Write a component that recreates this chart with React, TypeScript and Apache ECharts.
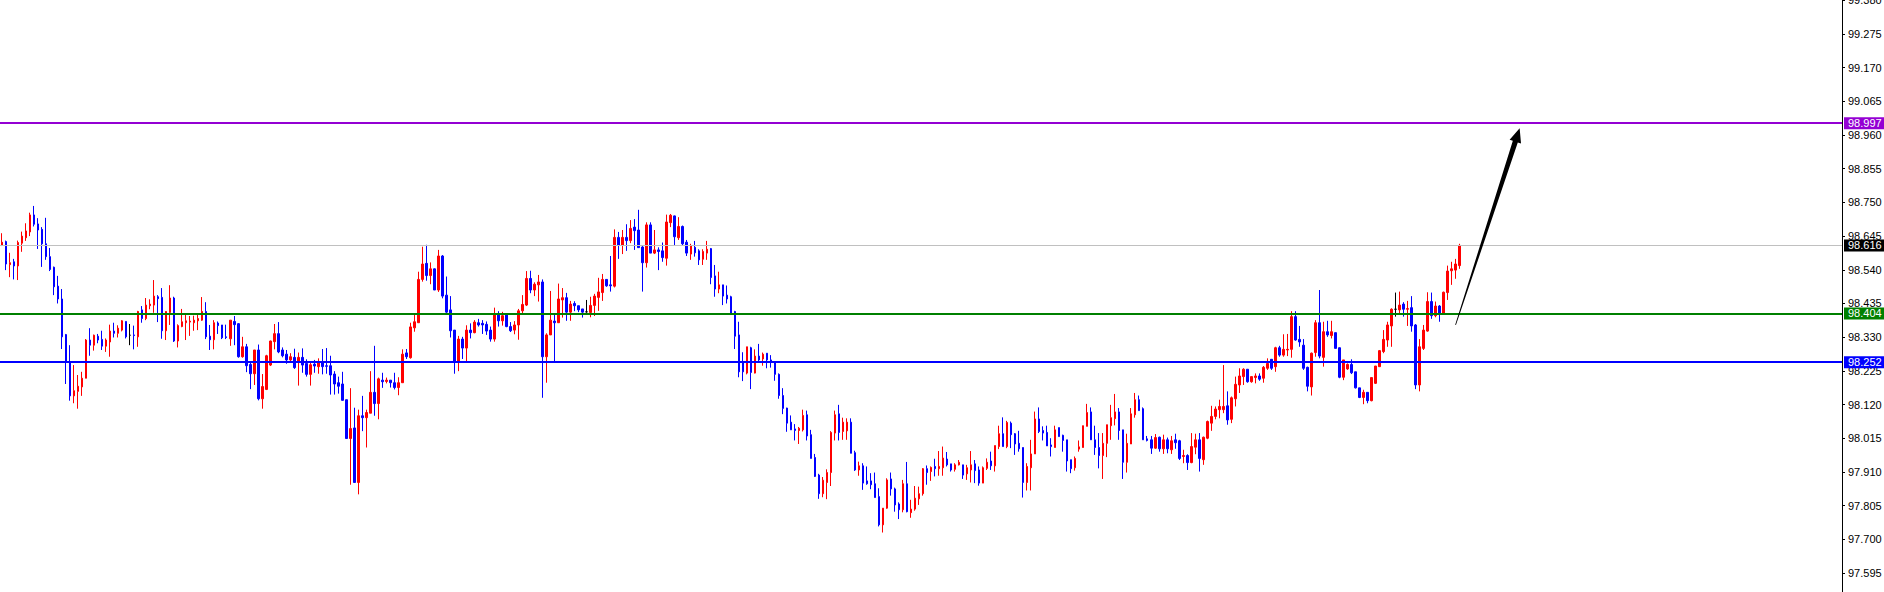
import React, { useEffect, useRef } from 'react';
import * as echarts from 'echarts';

const opens = [
  98.617, 98.628, 98.556, 98.565, 98.552, 98.623, 98.640, 98.658, 98.711, 98.683,
  98.666, 98.621, 98.581, 98.548, 98.489, 98.449, 98.338, 98.251, 98.147, 98.161,
  98.175, 98.202, 98.321, 98.305, 98.333, 98.323, 98.302, 98.315, 98.349, 98.342,
  98.352, 98.379, 98.336, 98.337, 98.331, 98.415, 98.388, 98.428, 98.430, 98.456,
  98.454, 98.350, 98.407, 98.452, 98.318, 98.363, 98.375, 98.377, 98.375, 98.381,
  98.383, 98.410, 98.333, 98.322, 98.374, 98.368, 98.331, 98.325, 98.379, 98.372,
  98.269, 98.300, 98.245, 98.216, 98.290, 98.138, 98.167, 98.243, 98.316, 98.341,
  98.290, 98.277, 98.259, 98.267, 98.252, 98.267, 98.248, 98.214, 98.246, 98.238,
  98.251, 98.241, 98.241, 98.215, 98.188, 98.184, 98.135, 98.014, 98.047, 97.877,
  98.085, 98.079, 98.093, 98.158, 98.123, 98.196, 98.192, 98.196, 98.188, 98.173,
  98.188, 98.281, 98.266, 98.359, 98.375, 98.510, 98.560, 98.522, 98.543, 98.477,
  98.583, 98.461, 98.415, 98.352, 98.253, 98.324, 98.296, 98.352, 98.344, 98.375,
  98.373, 98.370, 98.352, 98.324, 98.401, 98.381, 98.399, 98.363, 98.352, 98.368,
  98.412, 98.430, 98.513, 98.477, 98.493, 98.502, 98.269, 98.337, 98.380, 98.375,
  98.446, 98.453, 98.408, 98.435, 98.428, 98.418, 98.409, 98.407, 98.429, 98.454,
  98.469, 98.510, 98.493, 98.489, 98.641, 98.617, 98.641, 98.631, 98.673, 98.664,
  98.611, 98.562, 98.680, 98.592, 98.602, 98.599, 98.576, 98.687, 98.708, 98.640,
  98.675, 98.626, 98.589, 98.610, 98.599, 98.573, 98.592, 98.606, 98.521, 98.480,
  98.493, 98.461, 98.456, 98.410, 98.337, 98.253, 98.218, 98.297, 98.218, 98.271,
  98.262, 98.280, 98.259, 98.253, 98.214, 98.148, 98.109, 98.065, 98.044, 98.039,
  98.041, 98.088, 98.026, 97.955, 97.900, 97.842, 97.877, 97.908, 98.031, 98.091,
  98.036, 98.038, 98.065, 97.970, 97.916, 97.929, 97.882, 97.882, 97.873, 97.833,
  97.745, 97.797, 97.888, 97.857, 97.810, 97.792, 97.873, 97.783, 97.794, 97.826,
  97.842, 97.920, 97.911, 97.927, 97.920, 97.923, 97.950, 97.935, 97.918, 97.932,
  97.932, 97.904, 97.916, 97.935, 97.916, 97.875, 97.921, 97.944, 97.929, 97.989,
  98.029, 97.989, 98.062, 98.029, 97.999, 97.986, 97.877, 97.923, 97.966, 98.075,
  98.039, 98.033, 97.994, 97.986, 98.048, 98.024, 98.010, 97.948, 97.923, 97.981,
  97.986, 98.052, 98.097, 98.010, 97.986, 97.961, 97.999, 98.054, 98.076, 98.097,
  98.041, 97.940, 97.997, 98.088, 98.135, 98.107, 98.013, 98.010, 97.984, 98.018,
  97.982, 98.010, 97.979, 98.010, 98.007, 97.958, 97.961, 97.939, 97.987, 98.010,
  97.948, 98.015, 98.062, 98.083, 98.104, 98.104, 98.116, 98.074, 98.138, 98.181,
  98.207, 98.230, 98.191, 98.204, 98.209, 98.202, 98.233, 98.261, 98.238, 98.297,
  98.274, 98.290, 98.292, 98.394, 98.323, 98.305, 98.236, 98.175, 98.282, 98.375,
  98.267, 98.347, 98.335, 98.344, 98.297, 98.205, 98.231, 98.245, 98.222, 98.172,
  98.142, 98.158, 98.132, 98.186, 98.238, 98.285, 98.321, 98.365, 98.417, 98.415,
  98.433, 98.417, 98.422, 98.368, 98.181, 98.295, 98.349, 98.441, 98.397, 98.427,
  98.404, 98.469, 98.537, 98.539, 98.553,
];

const closes = [
  98.626, 98.558, 98.562, 98.552, 98.625, 98.645, 98.661, 98.711, 98.682, 98.664,
  98.621, 98.581, 98.541, 98.487, 98.449, 98.331, 98.251, 98.147, 98.163, 98.177,
  98.202, 98.321, 98.305, 98.336, 98.321, 98.302, 98.321, 98.349, 98.342, 98.358,
  98.381, 98.331, 98.336, 98.335, 98.410, 98.388, 98.430, 98.433, 98.458, 98.450,
  98.350, 98.410, 98.452, 98.318, 98.366, 98.378, 98.381, 98.380, 98.383, 98.388,
  98.410, 98.331, 98.322, 98.375, 98.366, 98.328, 98.329, 98.383, 98.369, 98.269,
  98.300, 98.241, 98.216, 98.290, 98.138, 98.176, 98.272, 98.318, 98.341, 98.284,
  98.272, 98.259, 98.269, 98.235, 98.267, 98.243, 98.214, 98.244, 98.240, 98.253,
  98.238, 98.239, 98.212, 98.184, 98.177, 98.133, 98.014, 98.045, 97.877, 98.085,
  98.079, 98.095, 98.158, 98.123, 98.200, 98.191, 98.196, 98.188, 98.173, 98.188,
  98.277, 98.269, 98.362, 98.378, 98.510, 98.558, 98.522, 98.543, 98.477, 98.583,
  98.458, 98.408, 98.350, 98.253, 98.324, 98.296, 98.352, 98.344, 98.377, 98.368,
  98.368, 98.349, 98.324, 98.399, 98.381, 98.397, 98.363, 98.350, 98.368, 98.412,
  98.432, 98.513, 98.477, 98.495, 98.502, 98.269, 98.337, 98.383, 98.375, 98.449,
  98.453, 98.408, 98.433, 98.428, 98.415, 98.408, 98.409, 98.429, 98.458, 98.471,
  98.510, 98.490, 98.490, 98.641, 98.617, 98.641, 98.631, 98.669, 98.662, 98.609,
  98.562, 98.680, 98.592, 98.602, 98.597, 98.578, 98.689, 98.710, 98.643, 98.675,
  98.621, 98.592, 98.614, 98.593, 98.571, 98.597, 98.604, 98.516, 98.480, 98.493,
  98.458, 98.449, 98.404, 98.333, 98.222, 98.222, 98.300, 98.220, 98.271, 98.259,
  98.277, 98.259, 98.253, 98.214, 98.148, 98.108, 98.062, 98.041, 98.039, 98.046,
  98.086, 98.022, 97.952, 97.896, 97.842, 97.884, 97.908, 98.033, 98.088, 98.033,
  98.065, 98.065, 97.968, 97.916, 97.929, 97.875, 97.873, 97.870, 97.830, 97.745,
  97.797, 97.885, 97.857, 97.807, 97.792, 97.873, 97.786, 97.794, 97.828, 97.842,
  97.920, 97.908, 97.924, 97.920, 97.927, 97.953, 97.932, 97.916, 97.932, 97.940,
  97.900, 97.923, 97.932, 97.914, 97.875, 97.923, 97.940, 97.929, 97.992, 98.029,
  97.989, 98.064, 98.026, 97.997, 97.982, 97.877, 97.927, 97.966, 98.075, 98.036,
  98.031, 97.991, 97.989, 98.041, 98.020, 98.008, 97.944, 97.920, 97.952, 97.988,
  98.054, 98.095, 98.010, 97.986, 97.961, 97.999, 98.057, 98.079, 98.097, 98.039,
  97.940, 97.999, 98.091, 98.135, 98.101, 98.010, 98.008, 97.984, 98.017, 97.982,
  98.010, 97.982, 98.007, 98.001, 97.952, 97.961, 97.939, 97.989, 98.010, 97.952,
  98.018, 98.067, 98.083, 98.106, 98.114, 98.114, 98.072, 98.141, 98.183, 98.209,
  98.230, 98.191, 98.207, 98.209, 98.199, 98.236, 98.248, 98.233, 98.297, 98.274,
  98.292, 98.292, 98.394, 98.321, 98.315, 98.233, 98.177, 98.280, 98.375, 98.271,
  98.347, 98.337, 98.347, 98.295, 98.205, 98.259, 98.245, 98.219, 98.172, 98.142,
  98.158, 98.132, 98.204, 98.240, 98.288, 98.323, 98.368, 98.417, 98.417, 98.430,
  98.417, 98.419, 98.365, 98.181, 98.300, 98.352, 98.441, 98.397, 98.427, 98.404,
  98.470, 98.536, 98.543, 98.558, 98.616,
];

const lows = [
  98.614, 98.539, 98.517, 98.510, 98.508, 98.596, 98.630, 98.645, 98.675, 98.605,
  98.549, 98.571, 98.536, 98.461, 98.435, 98.293, 98.184, 98.132, 98.124, 98.107,
  98.147, 98.202, 98.272, 98.288, 98.311, 98.290, 98.284, 98.269, 98.329, 98.329,
  98.348, 98.326, 98.305, 98.292, 98.300, 98.375, 98.383, 98.417, 98.406, 98.377,
  98.325, 98.321, 98.368, 98.315, 98.298, 98.361, 98.321, 98.334, 98.350, 98.352,
  98.381, 98.324, 98.290, 98.292, 98.340, 98.324, 98.324, 98.303, 98.305, 98.266,
  98.266, 98.221, 98.168, 98.181, 98.133, 98.107, 98.165, 98.240, 98.292, 98.280,
  98.267, 98.247, 98.251, 98.231, 98.179, 98.219, 98.207, 98.179, 98.219, 98.216,
  98.214, 98.216, 98.151, 98.151, 98.154, 98.132, 98.014, 97.870, 97.877, 97.840,
  98.037, 97.986, 98.093, 98.085, 98.074, 98.172, 98.186, 98.173, 98.167, 98.149,
  98.188, 98.262, 98.263, 98.347, 98.375, 98.503, 98.506, 98.495, 98.477, 98.471,
  98.451, 98.399, 98.329, 98.216, 98.224, 98.262, 98.253, 98.326, 98.342, 98.363,
  98.340, 98.337, 98.316, 98.316, 98.363, 98.366, 98.361, 98.346, 98.339, 98.322,
  98.404, 98.427, 98.467, 98.458, 98.441, 98.141, 98.188, 98.337, 98.252, 98.375,
  98.391, 98.381, 98.381, 98.411, 98.408, 98.391, 98.406, 98.392, 98.396, 98.412,
  98.443, 98.487, 98.472, 98.485, 98.574, 98.589, 98.599, 98.623, 98.602, 98.609,
  98.472, 98.547, 98.592, 98.589, 98.539, 98.565, 98.553, 98.673, 98.615, 98.633,
  98.617, 98.583, 98.571, 98.581, 98.555, 98.555, 98.571, 98.495, 98.456, 98.467,
  98.430, 98.435, 98.399, 98.293, 98.205, 98.193, 98.214, 98.168, 98.217, 98.252,
  98.241, 98.233, 98.235, 98.194, 98.138, 98.090, 98.035, 98.041, 98.008, 97.997,
  98.036, 98.008, 97.952, 97.894, 97.826, 97.831, 97.825, 97.866, 98.008, 98.008,
  98.010, 98.010, 97.968, 97.913, 97.898, 97.854, 97.870, 97.856, 97.830, 97.740,
  97.721, 97.795, 97.836, 97.786, 97.763, 97.784, 97.784, 97.767, 97.789, 97.807,
  97.836, 97.870, 97.882, 97.896, 97.898, 97.898, 97.927, 97.911, 97.911, 97.930,
  97.888, 97.885, 97.877, 97.875, 97.867, 97.875, 97.916, 97.916, 97.911, 97.981,
  97.989, 97.984, 97.984, 97.963, 97.973, 97.830, 97.852, 97.852, 97.966, 98.031,
  98.008, 97.991, 97.958, 97.986, 98.020, 97.973, 97.911, 97.906, 97.914, 97.973,
  97.986, 98.052, 98.010, 97.963, 97.921, 97.888, 97.956, 98.010, 98.055, 98.010,
  97.888, 97.908, 97.997, 98.079, 98.101, 98.010, 98.005, 97.966, 97.982, 97.973,
  97.966, 97.968, 97.966, 97.982, 97.947, 97.937, 97.916, 97.937, 97.965, 97.911,
  97.932, 98.012, 98.038, 98.074, 98.077, 98.093, 98.057, 98.062, 98.114, 98.156,
  98.181, 98.188, 98.188, 98.186, 98.194, 98.188, 98.228, 98.228, 98.222, 98.269,
  98.269, 98.271, 98.266, 98.319, 98.300, 98.228, 98.161, 98.148, 98.269, 98.264,
  98.238, 98.331, 98.326, 98.295, 98.202, 98.196, 98.228, 98.215, 98.170, 98.140,
  98.121, 98.124, 98.130, 98.184, 98.238, 98.280, 98.300, 98.300, 98.394, 98.399,
  98.394, 98.365, 98.347, 98.168, 98.161, 98.290, 98.347, 98.387, 98.392, 98.378,
  98.404, 98.446, 98.493, 98.512, 98.543,
];

const highs = [
  98.654, 98.631, 98.593, 98.574, 98.631, 98.659, 98.685, 98.718, 98.739, 98.701,
  98.673, 98.702, 98.608, 98.550, 98.521, 98.480, 98.340, 98.305, 98.243, 98.212,
  98.222, 98.324, 98.358, 98.338, 98.340, 98.350, 98.326, 98.369, 98.375, 98.367,
  98.383, 98.379, 98.371, 98.366, 98.412, 98.427, 98.452, 98.448, 98.508, 98.461,
  98.483, 98.411, 98.492, 98.456, 98.370, 98.418, 98.399, 98.396, 98.397, 98.404,
  98.455, 98.439, 98.368, 98.383, 98.379, 98.368, 98.369, 98.383, 98.396, 98.374,
  98.331, 98.309, 98.251, 98.290, 98.307, 98.215, 98.275, 98.319, 98.371, 98.377,
  98.298, 98.290, 98.280, 98.294, 98.282, 98.295, 98.261, 98.250, 98.259, 98.264,
  98.293, 98.296, 98.272, 98.224, 98.207, 98.222, 98.135, 98.171, 98.110, 98.104,
  98.147, 98.104, 98.224, 98.303, 98.204, 98.219, 98.204, 98.196, 98.219, 98.205,
  98.292, 98.293, 98.375, 98.399, 98.534, 98.612, 98.618, 98.563, 98.544, 98.602,
  98.586, 98.519, 98.458, 98.352, 98.334, 98.331, 98.367, 98.373, 98.383, 98.387,
  98.383, 98.379, 98.363, 98.422, 98.411, 98.409, 98.404, 98.377, 98.380, 98.418,
  98.461, 98.536, 98.537, 98.501, 98.524, 98.510, 98.342, 98.474, 98.404, 98.497,
  98.483, 98.468, 98.443, 98.442, 98.428, 98.418, 98.446, 98.456, 98.465, 98.515,
  98.527, 98.510, 98.583, 98.666, 98.658, 98.664, 98.682, 98.695, 98.698, 98.727,
  98.614, 98.688, 98.688, 98.664, 98.610, 98.625, 98.712, 98.714, 98.709, 98.704,
  98.678, 98.633, 98.621, 98.630, 98.604, 98.604, 98.630, 98.608, 98.555, 98.534,
  98.493, 98.491, 98.459, 98.412, 98.378, 98.283, 98.300, 98.300, 98.292, 98.309,
  98.282, 98.280, 98.274, 98.253, 98.217, 98.171, 98.110, 98.086, 98.059, 98.050,
  98.104, 98.101, 98.041, 97.966, 97.904, 97.894, 97.918, 98.037, 98.101, 98.119,
  98.079, 98.077, 98.077, 97.976, 97.942, 97.937, 97.927, 97.906, 97.908, 97.859,
  97.797, 97.890, 97.908, 97.861, 97.815, 97.885, 97.941, 97.823, 97.866, 97.864,
  97.922, 97.930, 97.927, 97.951, 97.975, 97.989, 97.972, 97.935, 97.937, 97.947,
  97.932, 97.932, 97.975, 97.947, 97.927, 97.927, 97.952, 97.973, 97.992, 98.054,
  98.080, 98.069, 98.067, 98.031, 98.038, 97.986, 97.937, 98.010, 98.098, 98.111,
  98.052, 98.054, 98.015, 98.054, 98.048, 98.026, 98.010, 97.948, 97.958, 98.008,
  98.054, 98.122, 98.111, 98.054, 98.031, 98.031, 98.057, 98.119, 98.153, 98.109,
  98.041, 98.029, 98.109, 98.156, 98.148, 98.111, 98.022, 98.022, 98.028, 98.020,
  98.026, 98.017, 98.022, 98.029, 98.010, 97.979, 97.965, 98.031, 98.029, 98.031,
  98.020, 98.070, 98.116, 98.114, 98.135, 98.243, 98.161, 98.145, 98.207, 98.233,
  98.233, 98.230, 98.207, 98.217, 98.217, 98.240, 98.264, 98.261, 98.300, 98.303,
  98.339, 98.340, 98.411, 98.411, 98.365, 98.324, 98.238, 98.282, 98.383, 98.477,
  98.378, 98.381, 98.381, 98.344, 98.298, 98.259, 98.248, 98.261, 98.222, 98.172,
  98.166, 98.158, 98.204, 98.240, 98.290, 98.352, 98.378, 98.420, 98.469, 98.472,
  98.439, 98.443, 98.458, 98.371, 98.324, 98.368, 98.470, 98.469, 98.441, 98.430,
  98.472, 98.553, 98.565, 98.574, 98.621,
];

const yTicks = [
  97.595, 97.7, 97.805, 97.91, 98.015, 98.12, 98.225, 98.33, 98.435,
  98.54, 98.645, 98.75, 98.855, 98.96, 99.065, 99.17, 99.275, 99.38,
];

const yMin = 97.5356;
const yMax = 99.381;
const slotCount = 460;
const targetLevel = 98.997;
const resistanceLevel = 98.404;
const supportLevel = 98.252;
const lastPrice = 98.616;
const arrowFrom = [363, 98.368];
const arrowTo = [379, 98.981];

const FONT = "'Liberation Sans Narrow', 'Liberation Sans', sans-serif";

export default function App() {
  const ref = useRef<HTMLDivElement>(null);

  useEffect(() => {
    if (!ref.current) return;
    const chart = echarts.init(ref.current, null, { renderer: 'svg' });
    const categories = Array.from({ length: slotCount }, (_, i) => String(i));
    const data = opens.map((o, i) => {
      const item: any = { value: [o, closes[i], lows[i], highs[i]] };
      if (o === closes[i]) {
        item.itemStyle = {
          color: '#000000',
          color0: '#000000',
          borderColor: '#000000',
          borderColor0: '#000000',
          borderColorDoji: '#000000',
        };
      }
      return item;
    });

    const priceLabel = (bg: string, level: number) => ({
      show: true,
      position: 'end',
      distance: 2,
      formatter: () => level.toFixed(3),
      color: '#ffffff',
      backgroundColor: bg,
      padding: [1, 4, 1, 4],
      fontSize: 11,
      lineHeight: 10,
      fontFamily: FONT,
    });

    chart.setOption({
      animation: false,
      backgroundColor: '#ffffff',
      grid: {
        left: 0,
        right: 42,
        top: 0,
        bottom: 0,
        containLabel: false,
        outerBoundsMode: 'none',
      },
      xAxis: {
        type: 'category',
        data: categories,
        show: false,
        boundaryGap: true,
      },
      yAxis: {
        type: 'value',
        position: 'right',
        min: yMin,
        max: yMax,
        splitLine: { show: false },
        axisLine: { show: true, lineStyle: { color: '#000000', width: 1 } },
        axisTick: {
          show: true,
          length: 3,
          customValues: yTicks,
          lineStyle: { color: '#000000', width: 1 },
        },
        axisLabel: {
          show: true,
          customValues: yTicks,
          formatter: (v: number) => v.toFixed(3),
          color: '#000000',
          fontSize: 11,
          fontFamily: FONT,
          margin: 6,
          hideOverlap: false,
        },
      },
      series: [
        {
          type: 'candlestick',
          data,
          barWidth: 2,
          silent: true,
          itemStyle: {
            color: '#ff0000',
            color0: '#0000ff',
            borderColor: '#ff0000',
            borderColor0: '#0000ff',
            borderColorDoji: '#000000',
            borderWidth: 1,
          },
          markLine: {
            silent: true,
            symbol: ['none', 'none'],
            precision: 3,
            animation: false,
            data: [
              {
                yAxis: lastPrice,
                lineStyle: { color: '#c0c0c0', width: 1, type: 'solid' },
                label: priceLabel('#000000', lastPrice),
              },
              {
                yAxis: supportLevel,
                lineStyle: { color: '#0000ff', width: 2, type: 'solid' },
                label: priceLabel('#0000ff', supportLevel),
              },
              {
                yAxis: resistanceLevel,
                lineStyle: { color: '#008000', width: 2, type: 'solid' },
                label: priceLabel('#008000', resistanceLevel),
              },
              {
                yAxis: targetLevel,
                lineStyle: { color: '#9400d3', width: 2, type: 'solid' },
                label: priceLabel('#9400d3', targetLevel),
              },
            ],
          },
        },
        {
          type: 'custom',
          silent: true,
          z: 10,
          data: [[arrowFrom[0], arrowFrom[1], arrowTo[0], arrowTo[1]]],
          renderItem: (_params: any, api: any) => {
            const a = api.coord([api.value(0), api.value(1)]);
            const b = api.coord([api.value(2), api.value(3)]);
            const dx = b[0] - a[0];
            const dy = b[1] - a[1];
            const len = Math.hypot(dx, dy) || 1;
            const ux = dx / len;
            const uy = dy / len;
            const nx = -uy;
            const ny = ux;
            const head = 14;
            const hw = 6;
            const sw = 2.6;
            const tw = 0.4;
            const bx = b[0] - ux * head;
            const by = b[1] - uy * head;
            const pts = [
              [a[0] + nx * tw, a[1] + ny * tw],
              [bx + nx * sw, by + ny * sw],
              [bx + nx * hw, by + ny * hw],
              [b[0], b[1]],
              [bx - nx * hw, by - ny * hw],
              [bx - nx * sw, by - ny * sw],
              [a[0] - nx * tw, a[1] - ny * tw],
            ];
            return {
              type: 'polygon',
              shape: { points: pts },
              style: { fill: '#000000' },
            };
          },
        },
      ],
    });

    return () => {
      chart.dispose();
    };
  }, []);

  return (
    <div
      ref={ref}
      style={{ position: 'fixed', left: 0, top: 0, width: 1884, height: 592, background: '#fff' }}
    />
  );
}
